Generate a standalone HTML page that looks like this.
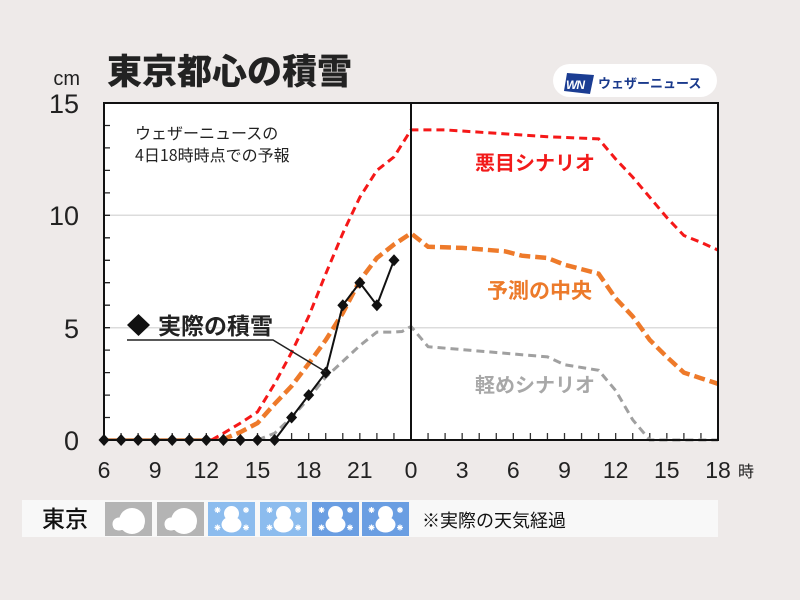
<!DOCTYPE html>
<html><head><meta charset="utf-8"><style>
html,body{margin:0;padding:0;background:#eeeae9;}
svg{display:block;}
text{font-family:"Liberation Sans","Noto Sans CJK JP",sans-serif;}
.cj{font-family:"Noto Sans CJK JP","Liberation Sans",sans-serif;}
</style></head><body>
<svg width="800" height="600" viewBox="0 0 800 600" xmlns="http://www.w3.org/2000/svg">
<rect x="0" y="0" width="800" height="600" fill="#eeeae9"/>
<!-- title -->
<text x="107" y="84" class="cj" font-size="35" font-weight="900" fill="#222">東京都心の積雪</text>
<!-- logo -->
<rect x="553" y="64" width="164" height="33" rx="16.5" fill="#ffffff"/>
<polygon points="567,73 594,75 590,94 564,91" fill="#1b3d93"/>
<text x="566" y="89" font-size="12" font-weight="bold" font-style="italic" fill="#fff" letter-spacing="-1">WN</text>
<text x="598" y="88" class="cj" font-size="13" font-weight="bold" fill="#1a3a8c">ウェザーニュース</text>
<!-- plot area -->
<rect x="104" y="103" width="614" height="337" fill="#ffffff"/>
<line x1="104" y1="215.3" x2="718" y2="215.3" stroke="#dcdcdc" stroke-width="1.5"/>
<line x1="104" y1="327.7" x2="718" y2="327.7" stroke="#dcdcdc" stroke-width="1.5"/>
<!-- left minor ticks -->
<path d="M104 417.5H110M104 395.1H110M104 372.6H110M104 350.1H110M104 327.7H110M104 305.2H110M104 282.7H110M104 260.3H110M104 237.8H110M104 215.3H110M104 192.9H110M104 170.4H110M104 147.9H110M104 125.5H110" stroke="#222" stroke-width="1.3"/>
<!-- bottom ticks -->
<path d="M121.06 440V433M138.11 440V433M155.17 440V433M172.22 440V433M189.28 440V433M206.33 440V433M223.39 440V433M240.44 440V433M257.5 440V433M274.56 440V433M291.61 440V433M308.67 440V433M325.72 440V433M342.78 440V433M359.83 440V433M376.89 440V433M393.94 440V433M428.06 440V433M445.11 440V433M462.17 440V433M479.22 440V433M496.28 440V433M513.33 440V433M530.39 440V433M547.44 440V433M564.5 440V433M581.56 440V433M598.61 440V433M615.67 440V433M632.72 440V433M649.78 440V433M666.83 440V433M683.89 440V433M700.94 440V433" stroke="#333" stroke-width="1.3"/>
<!-- subtitle -->
<text x="135" y="139" class="cj" font-size="16" fill="#222">ウェザーニュースの</text>
<text x="135" y="161" class="cj" font-size="16" fill="#222">4日18時時点での予報</text>
<!-- series -->
<line x1="104" y1="439" x2="222" y2="439" stroke="#c8763a" stroke-width="1.5"/>
<polyline fill="none" stroke="#a0a0a0" stroke-width="3" stroke-dasharray="8,5" points="257.5,440 274.6,433.3 291.6,417.5 308.7,398.4 325.8,377.1 342.8,361.4 359.8,345.6 376.9,332.1 394,332.1 402,331.5 411,326.5 428.1,346.7 547.5,356.9 564.5,364.7 598.6,370.3 615.7,390.6 632.7,419.8 649.8,440 718,440"/>
<polyline fill="none" stroke="#ee7a2a" stroke-width="4.5" stroke-dasharray="11,5" points="221.7,440 240.4,432.1 257.5,423.1 274.6,404 291.6,386.1 308.7,363.6 325.8,340 342.8,313 359.8,280.5 376.9,258 394,244.5 411,233.3 428.1,246.8 462.2,247.9 504.9,251.3 521.9,255.7 547.5,258 564.5,264.7 598.6,273.7 615.7,298.4 632.7,316.4 649.8,340 666.8,356.9 683.9,372.6 700.9,378.2 718,383.8"/>
<polyline fill="none" stroke="#f51818" stroke-width="3" stroke-dasharray="8,5" points="211.5,440 223.4,433.3 240.4,423.1 257.5,411.9 274.6,383.8 291.6,352.4 308.7,316.4 325.8,273.7 342.8,233.3 359.8,197.3 376.9,170.4 394,156.9 411,129.9 445.1,129.9 496.3,133.3 547.5,136.7 598.6,138.9 615.7,159.1 632.7,177.1 649.8,197.3 666.8,217.5 683.9,235.5 700.9,242.3 718,250.1"/>
<!-- axes / frame -->
<rect x="104" y="103" width="614" height="337" fill="none" stroke="#111" stroke-width="2"/>
<line x1="411" y1="103" x2="411" y2="440" stroke="#111" stroke-width="2"/>
<!-- actual -->
<polyline fill="none" stroke="#111" stroke-width="2" points="104,440 274.6,440 291.6,417.5 308.7,395.1 325.8,372.6 342.8,305.2 359.8,282.7 376.9,305.2 394,260.2"/>
<g fill="#111">
<path d="M104 434l5.5 6-5.5 6-5.5-6z"/>
<path d="M121.1 434l5.5 6-5.5 6-5.5-6z"/>
<path d="M138.1 434l5.5 6-5.5 6-5.5-6z"/>
<path d="M155.2 434l5.5 6-5.5 6-5.5-6z"/>
<path d="M172.2 434l5.5 6-5.5 6-5.5-6z"/>
<path d="M189.3 434l5.5 6-5.5 6-5.5-6z"/>
<path d="M206.3 434l5.5 6-5.5 6-5.5-6z"/>
<path d="M223.4 434l5.5 6-5.5 6-5.5-6z"/>
<path d="M240.4 434l5.5 6-5.5 6-5.5-6z"/>
<path d="M257.5 434l5.5 6-5.5 6-5.5-6z"/>
<path d="M274.6 434l5.5 6-5.5 6-5.5-6z"/>
<path d="M291.6 411.5l5.5 6-5.5 6-5.5-6z"/>
<path d="M308.7 389.1l5.5 6-5.5 6-5.5-6z"/>
<path d="M325.8 366.6l5.5 6-5.5 6-5.5-6z"/>
<path d="M342.8 299.2l5.5 6-5.5 6-5.5-6z"/>
<path d="M359.8 276.7l5.5 6-5.5 6-5.5-6z"/>
<path d="M376.9 299.2l5.5 6-5.5 6-5.5-6z"/>
<path d="M394 254.2l5.5 6-5.5 6-5.5-6z"/>
</g>
<!-- annotations -->
<text x="475" y="170" class="cj" font-size="20" font-weight="bold" fill="#f21a1a">悪目シナリオ</text>
<text x="487" y="298" class="cj" font-size="21" font-weight="bold" fill="#ec7a2a">予測の中央</text>
<text x="475" y="392" class="cj" font-size="20" font-weight="bold" fill="#a8a8a8">軽めシナリオ</text>
<path d="M138.5 314L150 325 138.5 336 127 325z" fill="#111"/>
<text x="158" y="334" class="cj" font-size="23" font-weight="bold" fill="#222">実際の積雪</text>
<polyline fill="none" stroke="#222" stroke-width="1.5" points="127,340 273,340 326,372"/>
<!-- y labels -->
<g font-size="27" fill="#222" text-anchor="end">
<text x="79" y="113">15</text>
<text x="79" y="225">10</text>
<text x="79" y="338">5</text>
<text x="79" y="450">0</text>
</g>
<text x="80" y="85" font-size="20" fill="#222" text-anchor="end">cm</text>
<!-- x labels -->
<g font-size="23" fill="#222" text-anchor="middle">
<text x="104" y="478">6</text>
<text x="155.2" y="478">9</text>
<text x="206.3" y="478">12</text>
<text x="257.5" y="478">15</text>
<text x="308.7" y="478">18</text>
<text x="359.8" y="478">21</text>
<text x="411" y="478">0</text>
<text x="462.2" y="478">3</text>
<text x="513.3" y="478">6</text>
<text x="564.5" y="478">9</text>
<text x="615.7" y="478">12</text>
<text x="666.8" y="478">15</text>
<text x="718" y="478">18</text>
</g>
<text x="738" y="477" class="cj" font-size="16" fill="#222">時</text>
<!-- bottom strip -->
<rect x="22" y="500" width="696" height="37" fill="#f8f8f8"/>
<text x="42" y="527" class="cj" font-size="23" font-weight="500" fill="#111">東京</text>
<defs>
<g id="cloud">
<circle cx="27" cy="19" r="13" fill="#fff"/>
<circle cx="14" cy="22" r="6.5" fill="#fff"/>
<rect x="8" y="20" width="31" height="8" rx="4" fill="#fff"/>
</g>
<g id="snow">
<circle cx="23.5" cy="11.5" r="7.5" fill="#fff"/>
<ellipse cx="23.5" cy="22.5" rx="10" ry="8" fill="#fff"/>
<path d="M6.5 8h6M9.5 5v6M7.4 5.9l4.2 4.2M11.6 5.9l-4.2 4.2M35 8h6M38 5v6M35.9 5.9l4.2 4.2M40.1 5.9l-4.2 4.2M6.5 25.5h6M9.5 22.5v6M7.4 23.4l4.2 4.2M11.6 23.4l-4.2 4.2M35 25.5h6M38 22.5v6M35.9 23.4l4.2 4.2M40.1 23.4l-4.2 4.2" stroke="#fff" stroke-width="1.2"/>
</g>
</defs>
<rect x="105" y="502" width="47" height="34" fill="#b4b4b4"/>
<use href="#cloud" x="105" y="502"/>
<rect x="157" y="502" width="47" height="34" fill="#b4b4b4"/>
<use href="#cloud" x="157" y="502"/>
<rect x="208" y="502" width="47" height="34" fill="#8cbcee"/>
<use href="#snow" x="208" y="502"/>
<rect x="260" y="502" width="47" height="34" fill="#8cbcee"/>
<use href="#snow" x="260" y="502"/>
<rect x="312" y="502" width="47" height="34" fill="#6a9ee2"/>
<use href="#snow" x="312" y="502"/>
<rect x="362" y="502" width="47" height="34" fill="#6a9ee2"/>
<use href="#snow" x="362" y="502"/>
<text x="422" y="527" class="cj" font-size="18" fill="#111">※実際の天気経過</text>
</svg>
</body></html>
